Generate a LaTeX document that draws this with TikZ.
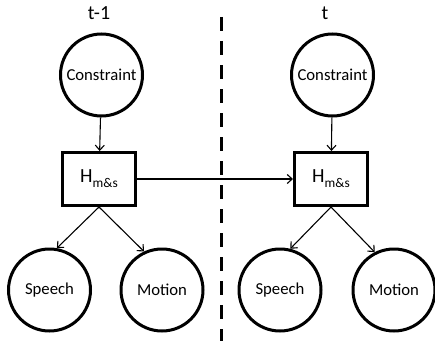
\documentclass[tikz,border=0pt]{standalone}
\usepackage{fontspec}
\setmainfont{Carlito}
\usetikzlibrary{arrows.meta}

\def\r{41}

\begin{document}
\begin{tikzpicture}[x=1pt,y=-1pt,>={Straight Barb[length=5pt,width=9pt]},line width=1.1pt]
\tikzset{var/.style={draw,circle,line width=3pt,minimum size=2*\r pt,inner sep=0pt,font=\fontsize{16.7}{18}\selectfont},
  hid/.style={draw,rectangle,line width=3pt,minimum width=73pt,minimum height=53pt,inner sep=0pt},
  time/.style={font=\fontsize{20}{22}\selectfont}}
\useasboundingbox (0,0) rectangle (435,345);
\node[time] (T1) at (99,13) {t-1};
\node[time] (T2) at (325,13) {t};
\node[var] (C1) at (101.5,75) {Constraint};
\node[var] (C2) at (332.5,75) {Constraint};
\node[hid] (H1) at (99,179) {\fontsize{20}{22}\selectfont H\raisebox{-5pt}{\fontsize{13.4}{15}\selectfont m\&s}};
\node[hid] (H2) at (331,179) {\fontsize{20}{22}\selectfont H\raisebox{-5pt}{\fontsize{13.4}{15}\selectfont m\&s}};
\node[var] (S1) at (49.5,290) {Speech};
\node[var] (M1) at (162,290) {Motion};
\node[var] (S2) at (280,290) {Speech};
\node[var] (M2) at (394,290) {Motion};
\coordinate (D1) at (221.5,17);
\coordinate (D2) at (221.5,341);
\draw[line width=3pt,dash pattern=on 14pt off 10pt] (D1) -- (D2);
\draw[->] (C1) -- (H1);
\draw[->] (C2) -- (H2);
\draw[->] (H1) -- (H2);
\draw[->] (H1.south) -- (S1.80);
\draw[->] (H1.south) -- (M1.115);
\draw[->] (H2.south) -- (S2.76);
\draw[->] (H2.south) -- (M2.117);
\end{tikzpicture}
\end{document}
